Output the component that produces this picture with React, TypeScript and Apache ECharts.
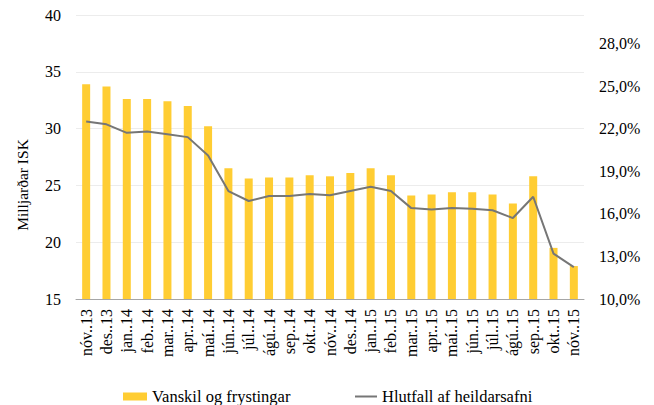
import React, { useEffect, useRef } from "react";
import * as echarts from "echarts";

const categories = [
  "nóv..13", "des..13", "jan..14", "feb..14", "mar..14", "apr..14", "maí..14",
  "jún..14", "júl..14", "ágú..14", "sep..14", "okt..14", "nóv..14", "des..14",
  "jan..15", "feb..15", "mar..15", "apr..15", "maí..15", "jún..15", "júl..15",
  "ágú..15", "sep..15", "okt..15", "nóv..15",
];

const vanskil = [
  33.9, 33.7, 32.6, 32.6, 32.4, 32.0, 30.2, 26.5, 25.6, 25.7, 25.7, 25.9, 25.8,
  26.1, 26.5, 25.9, 24.1, 24.2, 24.4, 24.4, 24.2, 23.4, 25.8, 19.5, 17.9,
];

const hlutfall = [
  22.5, 22.3, 21.7, 21.8, 21.6, 21.4, 20.1, 17.6, 16.9, 17.25, 17.25, 17.4, 17.3,
  17.6, 17.9, 17.6, 16.4, 16.3, 16.4, 16.35, 16.25, 15.7, 17.2, 13.2, 12.25,
];

const FONT = "Liberation Serif";

export default function App() {
  const ref = useRef<HTMLDivElement>(null);

  useEffect(() => {
    document.body.style.margin = "0";
    if (!ref.current) return;
    const chart = echarts.init(ref.current, null, { renderer: "svg" });
    chart.setOption({
      animation: false,
      textStyle: { fontFamily: FONT, color: "#000" },
      grid: { left: 76, right: 70, top: 15, bottom: 106 },
      legend: [
        {
          left: 118,
          top: 383,
          itemWidth: 24,
          itemHeight: 8,
          textStyle: { fontFamily: FONT, fontSize: 16.5, color: "#000" },
          data: [{ name: "Vanskil og frystingar", icon: "rect" }],
        },
        {
          left: 350,
          top: 383,
          itemWidth: 22,
          itemHeight: 2,
          textStyle: { fontFamily: FONT, fontSize: 16.5, color: "#000" },
          data: [
            {
              name: "Hlutfall af heildarsafni",
              icon: "rect",
              itemStyle: { color: "#767676" },
            },
          ],
        },
      ],
      graphic: [
        {
          type: "text",
          x: 22,
          y: 185,
          rotation: Math.PI / 2,
          style: {
            text: "Milljarðar ISK",
            fontFamily: FONT,
            fontSize: 15.5,
            fill: "#000",
            align: "center",
            verticalAlign: "middle",
          },
        },
      ],
      xAxis: {
        type: "category",
        data: categories,
        axisLine: { lineStyle: { color: "#a6a6a6", width: 1 } },
        axisTick: { show: false },
        axisLabel: {
          rotate: 90,
          interval: 0,
          fontFamily: FONT,
          fontSize: 16,
          color: "#000",
          margin: 10,
        },
      },
      yAxis: [
        {
          type: "value",
          min: 15,
          max: 40,
          interval: 5,
          axisLine: { show: false },
          axisTick: { show: false },
          splitLine: { lineStyle: { color: "#ececec", width: 1 } },
          axisLabel: { fontFamily: FONT, fontSize: 16, color: "#000", margin: 15 },
        },
        {
          type: "value",
          min: 10,
          max: 30,
          interval: 3,
          axisLine: { show: false },
          axisTick: { show: false },
          splitLine: { show: false },
          axisLabel: {
            fontFamily: FONT,
            fontSize: 16,
            color: "#000",
            margin: 15,
            showMaxLabel: false,
            formatter: (v: number) => v.toFixed(1).replace(".", ",") + "%",
          },
        },
      ],
      series: [
        {
          name: "Vanskil og frystingar",
          type: "bar",
          data: vanskil,
          barWidth: 8,
          itemStyle: { color: "#FFCD33" },
          yAxisIndex: 0,
        },
        {
          name: "Hlutfall af heildarsafni",
          type: "line",
          data: hlutfall,
          yAxisIndex: 1,
          symbol: "none",
          lineStyle: { color: "#767676", width: 2 },
          itemStyle: { color: "#767676" },
        },
      ],
    });
    return () => chart.dispose();
  }, []);

  return <div ref={ref} style={{ width: 654, height: 405 }} />;
}
